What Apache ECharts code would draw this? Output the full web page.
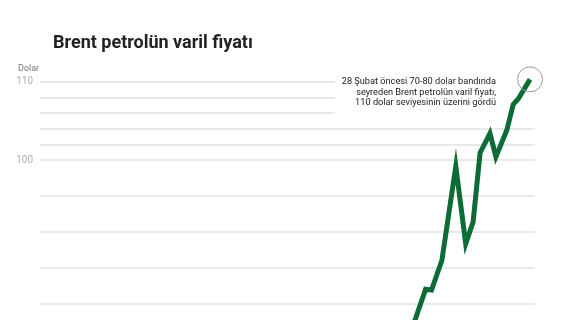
<!DOCTYPE html>
<html>
<head>
<meta charset="utf-8">
<script src="https://cdn.jsdelivr.net/npm/echarts@6/dist/echarts.min.js"></script>
<style>html,body{margin:0;padding:0;background:#fff;}#c{width:568px;height:320px;}</style>
</head>
<body>
<div id="c"></div>
<script>
// Time position (0-100 across the plot width) and Brent price (USD)
var timePos = [74.7, 77.9, 79.1, 81.2, 84.0, 86.0, 87.5, 88.9, 90.9, 92.1, 94.3, 95.6, 96.6, 99.0];
var prices  = [77.6, 83.5, 83.4, 87.2, 99.2, 89.3, 92.1, 100.9, 103.4, 100.4, 103.8, 107.1, 107.8, 110.3];
var gridValues = [110, 108, 106, 104, 102, 100, 95.4, 90.8, 86.25, 81.65];
var tickLabels = [100, 110];
var titleText = 'Brent petrolün varil fiyatı';
var unitText = 'Dolar';
var noteLines = ['28 Şubat öncesi 70-80 dolar bandında', 'seyreden Brent petrolün varil fiyatı,', '110 dolar seviyesinin üzerini gördü'];

var chart = echarts.init(document.getElementById('c'), null, {renderer: 'canvas'});
var lineData = timePos.map(function (t, i) { return [t, prices[i]]; });
var last = lineData[lineData.length - 1];

chart.setOption({
  animation: false,
  backgroundColor: '#fff',
  grid: {left: 40, right: 33, top: 66.04, height: 281.9, outerBoundsMode: 'none', containLabel: false},
  xAxis: {type: 'value', min: 0, max: 100, show: false},
  yAxis: {
    type: 'value', min: 76, max: 112, interval: 2,
    splitLine: {show: false}, axisLine: {show: false}, axisTick: {show: false},
    axisLabel: {
      margin: 7, color: '#b0b0b0', fontSize: 10, fontFamily: 'Roboto',
      formatter: function (v) { return tickLabels.indexOf(v) >= 0 ? String(v) : ''; }
    }
  },
  graphic: [
    {type: 'text', left: 53, top: 34, z: 5, style: {text: titleText, font: 'bold 18px Roboto', fill: '#222'}},
    {type: 'text', left: 18, top: 64, z: 5, style: {text: unitText, font: '9px Roboto', fill: '#777'}},
    {type: 'rect', shape: {x: 335, y: 71, width: 200, height: 47}, z: 3, style: {fill: '#fff'}},
    {type: 'text', z: 4, x: 496, y: 76.5, style: {text: noteLines.join('\n'), font: '9.2px Roboto', fill: '#222', align: 'right', verticalAlign: 'top', lineHeight: 10.6}}
  ],
  series: [
    {
      type: 'line', data: [], z: 1, silent: true,
      markLine: {
        silent: true, symbol: 'none', label: {show: false}, z: 1,
        lineStyle: {color: '#e2e2e2', width: 1.5, type: 'solid'},
        data: gridValues.map(function (v) { return {yAxis: v}; })
      }
    },
    {
      type: 'line', data: lineData, z: 6, clip: false, showSymbol: false,
      lineStyle: {color: '#0d6b36', width: 5, join: 'miter'},
      markPoint: {
        symbol: 'circle', symbolSize: 25, label: {show: false}, z: 7,
        itemStyle: {color: 'rgba(0,0,0,0)', borderColor: '#999', borderWidth: 1},
        data: [{coord: last}]
      }
    }
  ]
});
</script>
</body>
</html>
